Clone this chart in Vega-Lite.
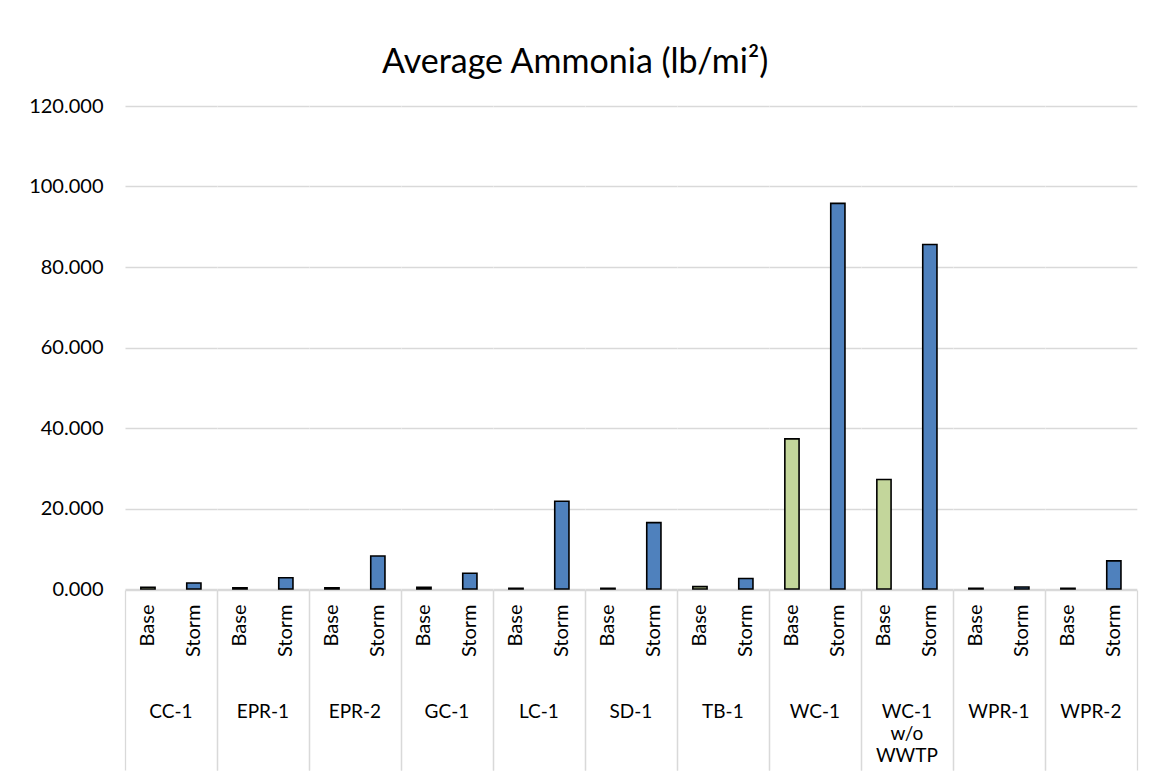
{
  "$schema": "https://vega.github.io/schema/vega-lite/v6.json",
  "background": "white",
  "padding": {"left": 28, "top": 46, "right": 10, "bottom": 5},
  "title": {"text": "Average Ammonia (lb/mi²)", "fontSize": 34, "font": "Lato", "fontWeight": "normal", "color": "#000000", "anchor": "middle", "offset": 16, "dx": -8},
  "data": {"values": [
    {"site": "CC-1", "type": "Base", "value": 0.45},
    {"site": "CC-1", "type": "Storm", "value": 1.5},
    {"site": "EPR-1", "type": "Base", "value": 0.3},
    {"site": "EPR-1", "type": "Storm", "value": 2.8},
    {"site": "EPR-2", "type": "Base", "value": 0.3},
    {"site": "EPR-2", "type": "Storm", "value": 8.2},
    {"site": "GC-1", "type": "Base", "value": 0.4},
    {"site": "GC-1", "type": "Storm", "value": 3.9},
    {"site": "LC-1", "type": "Base", "value": 0.15},
    {"site": "LC-1", "type": "Storm", "value": 21.8},
    {"site": "SD-1", "type": "Base", "value": 0.2},
    {"site": "SD-1", "type": "Storm", "value": 16.5},
    {"site": "TB-1", "type": "Base", "value": 0.6},
    {"site": "TB-1", "type": "Storm", "value": 2.6},
    {"site": "WC-1", "type": "Base", "value": 37.3},
    {"site": "WC-1", "type": "Storm", "value": 95.8},
    {"site": "WC-1 w/o WWTP", "type": "Base", "value": 27.2},
    {"site": "WC-1 w/o WWTP", "type": "Storm", "value": 85.6},
    {"site": "WPR-1", "type": "Base", "value": 0.2},
    {"site": "WPR-1", "type": "Storm", "value": 0.5},
    {"site": "WPR-2", "type": "Base", "value": 0.2},
    {"site": "WPR-2", "type": "Storm", "value": 7.0}
  ]},
  "facet": {
    "column": {
      "field": "site", "type": "nominal",
      "sort": ["CC-1", "EPR-1", "EPR-2", "GC-1", "LC-1", "SD-1", "TB-1", "WC-1", "WC-1 w/o WWTP", "WPR-1", "WPR-2"],
      "header": {
        "title": null,
        "labelOrient": "bottom",
        "labelFont": "Lato",
        "labelFontSize": 19,
        "labelColor": "#000000",
        "labelPadding": -68,
        "labelBaseline": "top",
        "labelLineHeight": 22,
        "labelExpr": "datum.value == 'WC-1 w/o WWTP' ? ['WC-1', 'w/o', 'WWTP'] : datum.value"
      }
    }
  },
  "spacing": 0,
  "spec": {
    "width": 91.8,
    "height": 483,
    "mark": {"type": "bar", "width": {"band": 0.31}, "stroke": "#000000", "strokeWidth": 1.6},
    "encoding": {
      "x": {
        "field": "type", "type": "nominal",
        "scale": {"paddingInner": 0, "paddingOuter": 0},
        "axis": {
          "title": null,
          "labelAngle": -90,
          "labelAlign": "right",
          "labelBaseline": "middle",
          "labelFont": "Lato",
          "labelFontSize": 20,
          "labelColor": "#000000",
          "labelPadding": -166,
          "tickBand": "extent",
          "domainColor": "#d9d9d9",
          "domainWidth": 1.3,
          "tickSize": 180,
          "tickColor": "#d9d9d9",
          "tickWidth": 1.3,
          "tickOpacity": {"condition": {"test": "datum.value === 'Storm' || datum.extra", "value": 1}, "value": 0}
        }
      },
      "y": {
        "field": "value", "type": "quantitative",
        "scale": {"domain": [0, 120]},
        "axis": {
          "title": null,
          "values": [0, 20, 40, 60, 80, 100, 120],
          "format": ".3f",
          "labelFont": "Lato",
          "labelFontSize": 20,
          "labelColor": "#000000",
          "labelPadding": 22,
          "domain": false,
          "ticks": false,
          "gridColor": "#d9d9d9",
          "gridWidth": 1.3
        }
      },
      "color": {
        "field": "type", "type": "nominal",
        "scale": {"domain": ["Base", "Storm"], "range": ["#C3D69B", "#4F81BD"]},
        "legend": null
      }
    }
  },
  "config": {"view": {"stroke": null}, "font": "Lato"}
}
